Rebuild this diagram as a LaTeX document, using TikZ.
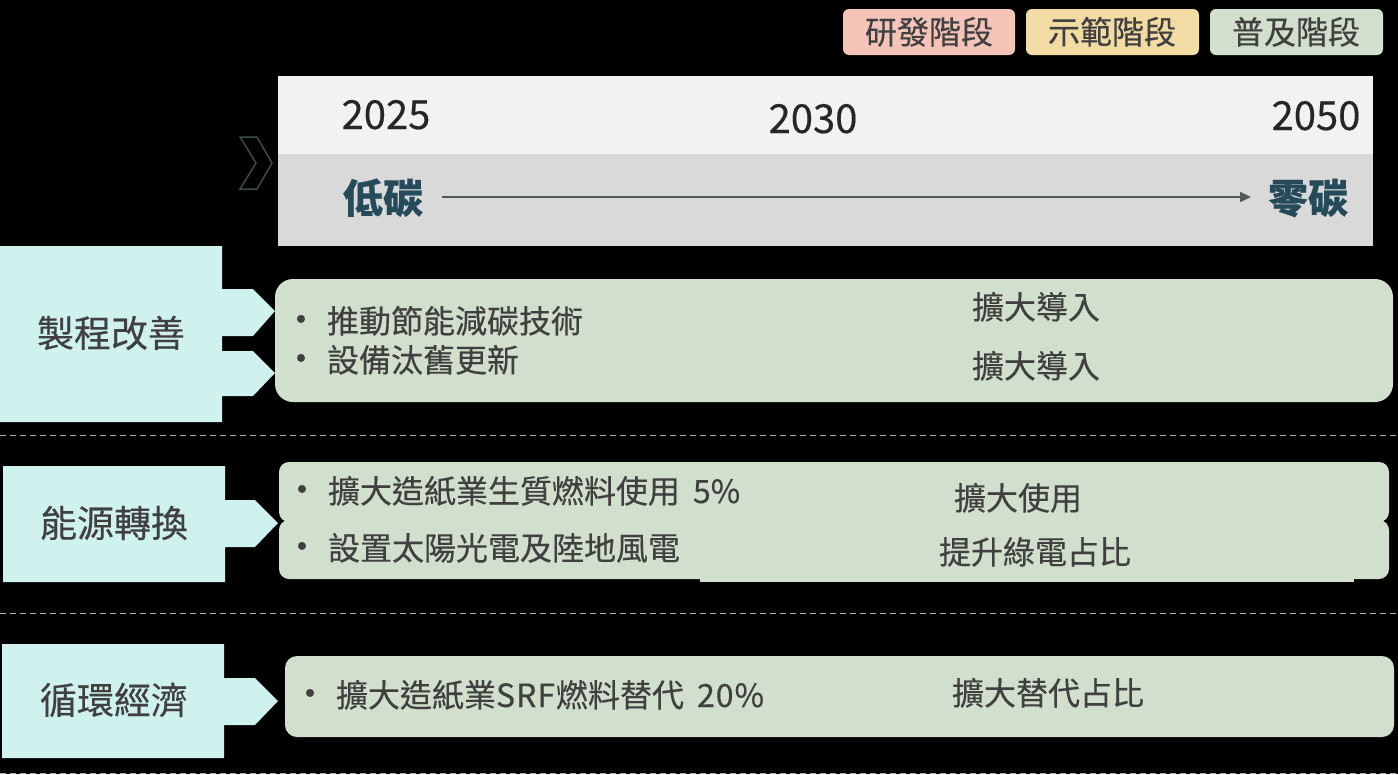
\documentclass[tikz,border=0pt]{standalone}
\usepackage{fontspec}
\setmainfont{Noto Sans CJK TC}[FakeBold=0.35]
\usetikzlibrary{arrows.meta}
\definecolor{txt}{HTML}{404040}
\definecolor{yeartxt}{HTML}{262626}
\definecolor{headtxt}{HTML}{254B5A}
\definecolor{pinkc}{HTML}{F4C4B9}
\definecolor{yellowc}{HTML}{F2DCA3}
\definecolor{greenc}{HTML}{D1E0CC}
\definecolor{cyanc}{HTML}{CFF2EE}
\definecolor{bandlight}{HTML}{F2F2F2}
\definecolor{banddark}{HTML}{D9D9D9}
\definecolor{arrowc}{HTML}{4D5B5B}
\definecolor{chevc}{HTML}{3B4B4B}
\definecolor{dashc}{HTML}{B0B0B0}
\begin{document}
\begin{tikzpicture}[x=1pt,y=-1pt,
  every node/.style={inner sep=0pt, outer sep=0pt},
  legendtxt/.style={anchor=base, text=txt, font=\fontsize{32}{38}\selectfont},
  yeartxt/.style={anchor=base, text=yeartxt, font=\fontsize{40}{46}\selectfont},
  headlbl/.style={anchor=base, text=headtxt, font=\fontsize{40}{46}\selectfont\bfseries},
  cattxt/.style={anchor=base, text=txt, font=\fontsize{37}{44}\selectfont},
  itemtxt/.style={anchor=base west, text=txt, font=\fontsize{32}{38}\selectfont},
  goaltxt/.style={anchor=base, text=txt, font=\fontsize{32}{38}\selectfont},
  bultxt/.style={anchor=base, text=txt, font=\fontsize{37}{40}\selectfont},
  dashline/.style={draw=dashc, line width=1pt, dash pattern=on 6pt off 4pt},
  catshape/.style={fill=cyanc},
  goalbox/.style={fill=greenc},
]
\useasboundingbox (0,0) rectangle (1398,774);
\fill[black] (0,0) rectangle (1398,774);

% legend
\fill[pinkc, rounded corners=6] (843,9) rectangle (1015,55);
\fill[yellowc, rounded corners=6] (1026,9) rectangle (1199,55);
\fill[greenc, rounded corners=6] (1210,9) rectangle (1383,55);
\node[legendtxt] (lg1) at (929,44) {研發階段};
\node[legendtxt] (lg2) at (1112,44) {示範階段};
\node[legendtxt] (lg3) at (1296,44) {普及階段};

% timeline band
\fill[bandlight] (278,76) rectangle (1373,154);
\fill[banddark] (278,154) rectangle (1373,246);
\draw[chevc, line width=1.5pt, line join=miter] (240,137) -- (257,137) -- (272,163) -- (257,189) -- (240,189) -- (256,163) -- cycle;
\node[yeartxt] (y2025) at (386,129) {2025};
\node[yeartxt] (y2030) at (813,133) {2030};
\node[yeartxt] (y2050) at (1316,130) {2050};
\node[headlbl] (low) at (383,213) {低碳};
\node[headlbl] (zero) at (1308,213) {零碳};
\coordinate (arrS) at (442,197);
\coordinate (arrE) at (1251,197);
\draw[arrowc, line width=1.5pt, -{Triangle[length=11pt,width=10pt]}] (arrS) -- (arrE);

% section 1
\fill[catshape] (0,246) -- (222,246) -- (222,289) -- (253,289) -- (275,311) -- (253,336) -- (222,336)
  -- (222,351) -- (253,351) -- (275,373) -- (253,396) -- (222,396) -- (222,422) -- (0,422) -- cycle;
\fill[goalbox, rounded corners=18] (275,279) rectangle (1393,402);
\node[cattxt] (c1) at (111,347) {製程改善};
\node[bultxt] (b11) at (301,333) {•};
\node[itemtxt] (i11) at (327,333) {推動節能減碳技術};
\node[bultxt] (b12) at (301,372) {•};
\node[itemtxt] (i12) at (327,372) {設備汰舊更新};
\node[goaltxt] (g11) at (1036,319) {擴大導入};
\node[goaltxt] (g12) at (1036,378) {擴大導入};

\draw[dashline] (0,435) -- (1398,435);

% section 2
\fill[catshape] (3,466) -- (225,466) -- (225,500) -- (255,500) -- (278,523) -- (255,547) -- (225,547)
  -- (225,582) -- (3,582) -- cycle;
\fill[goalbox, rounded corners=10] (279,462) rectangle (1389,522);
\fill[goalbox, rounded corners=10] (279,520) rectangle (1389,579);
\fill[goalbox] (700,550) rectangle (1354,582);
\node[cattxt] (c2) at (114,537) {能源轉換};
\node[bultxt] (b21) at (302,503) {•};
\node[itemtxt] (i21) at (328,503) {擴大造紙業生質燃料使用\hspace{13pt}5\%};
\node[bultxt] (b22) at (302,560) {•};
\node[itemtxt] (i22) at (328,560) {設置太陽光電及陸地風電};
\node[goaltxt] (g21) at (1018,510) {擴大使用};
\node[goaltxt] (g22) at (1035,564) {提升綠電占比};

\draw[dashline] (0,613) -- (1398,613);

% section 3
\fill[catshape] (2,644) -- (224,644) -- (224,678) -- (255,678) -- (278,701) -- (255,725) -- (224,725)
  -- (224,758) -- (2,758) -- cycle;
\fill[goalbox, rounded corners=12] (285,656) rectangle (1394,737);
\node[cattxt] (c3) at (114,714) {循環經濟};
\node[bultxt] (b31) at (310,707) {•};
\node[itemtxt] (i31) at (336,707) {擴大造紙業S\hspace{1pt}R\hspace{1pt}F\hspace{1pt}燃料替代\hspace{13pt}2\hspace{1pt}0\hspace{1pt}\%};
\node[goaltxt] (g31) at (1048,705) {擴大替代占比};

\draw[dashline] (0,773) -- (1398,773);
\end{tikzpicture}
\end{document}
